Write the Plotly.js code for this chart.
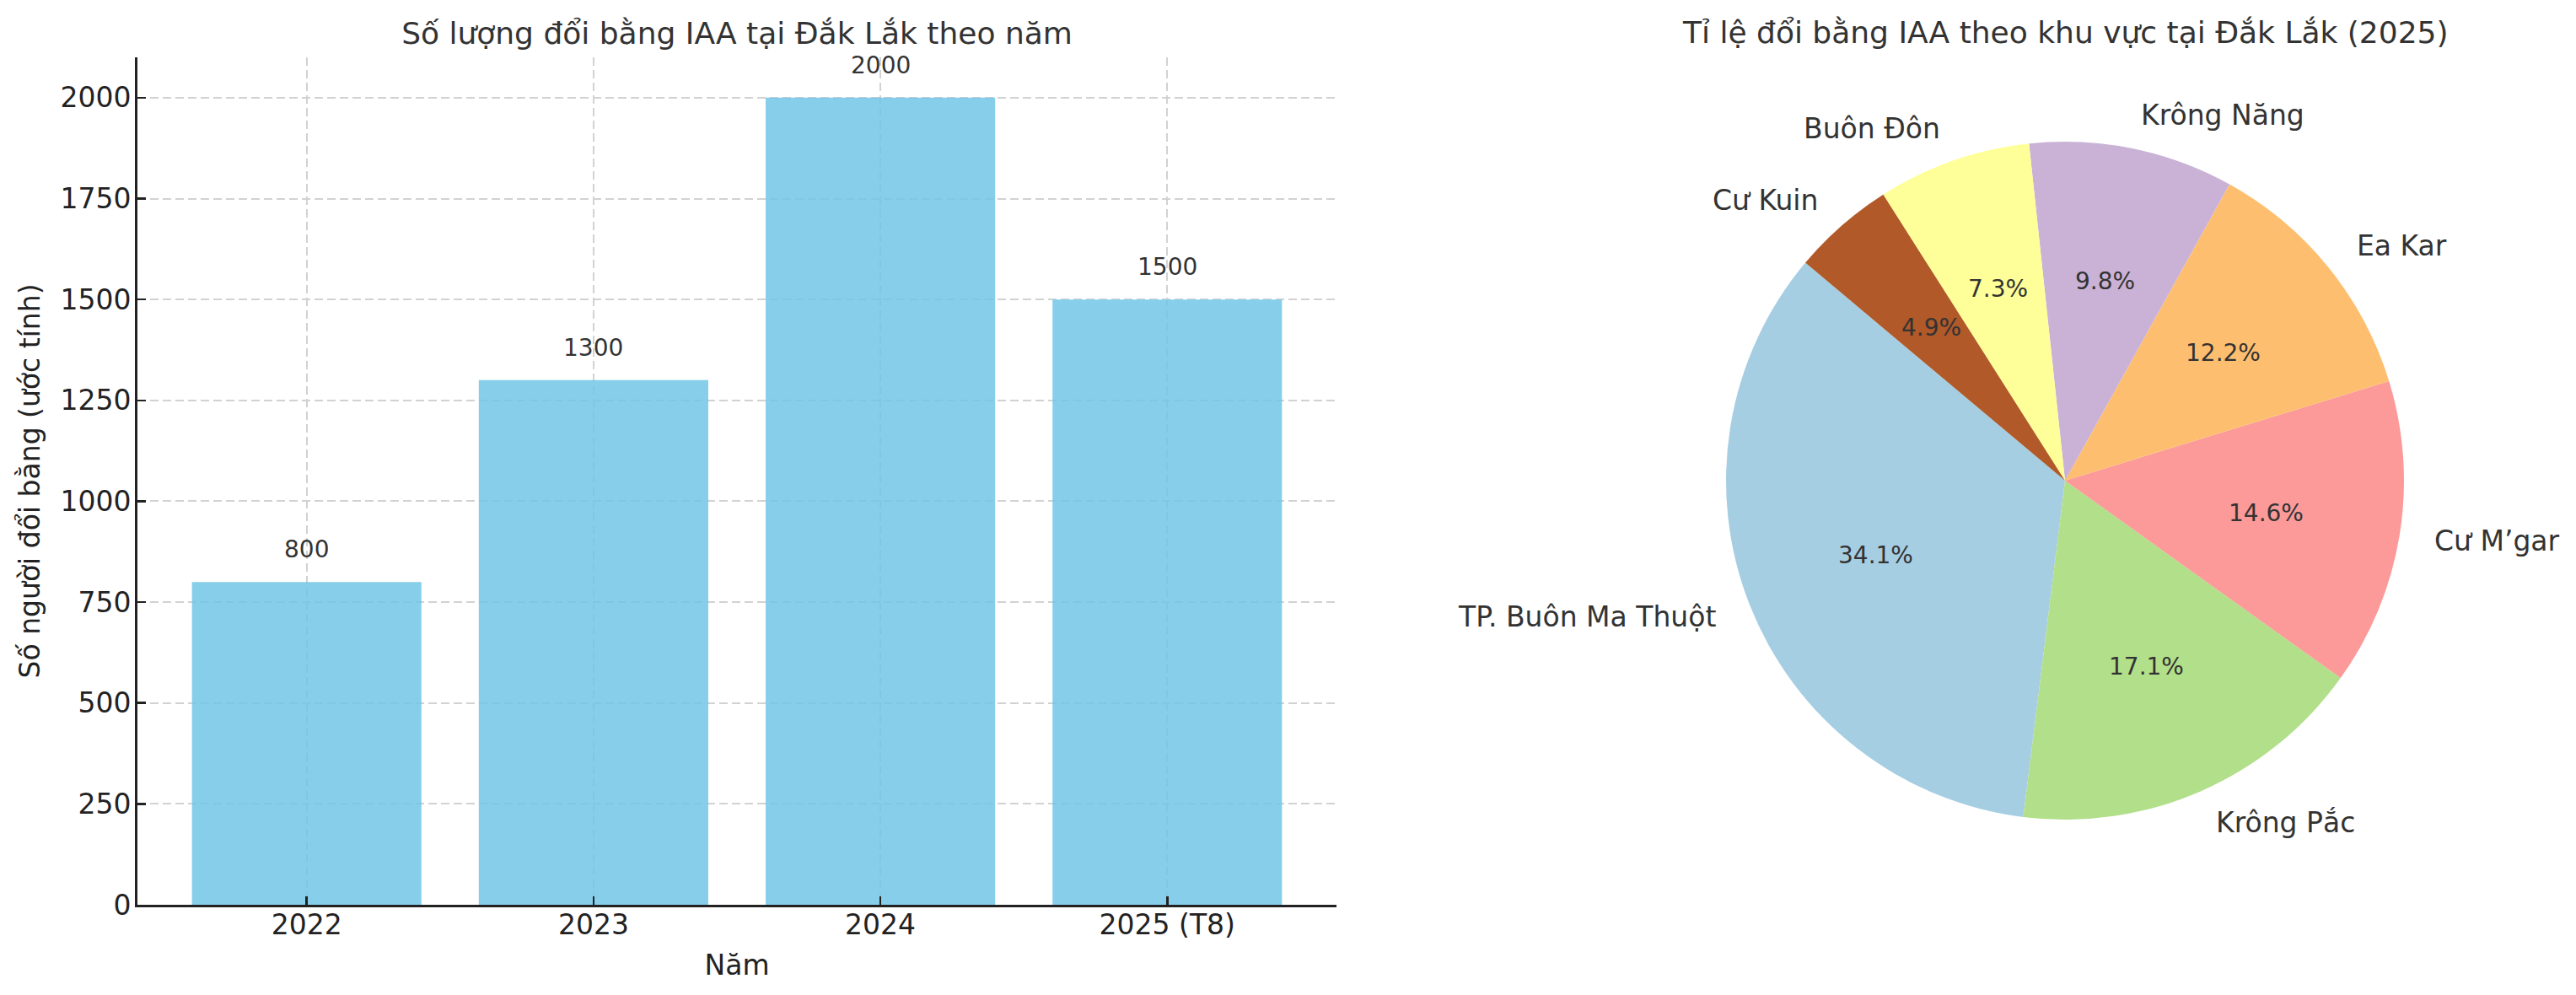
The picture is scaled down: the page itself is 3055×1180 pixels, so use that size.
<!DOCTYPE html>
<html>
<head>
<meta charset="utf-8">
<script src="https://cdn.plot.ly/plotly-3.0.1.min.js"></script>
<style>
  html, body { margin: 0; padding: 0; background: #fff; }
  #chart { width: 3055px; height: 1180px; }
</style>
</head>
<body>
<div id="chart"></div>
<script>
// bar chart data
const years = ['2022', '2023', '2024', '2025 (T8)'];
const counts = [800, 1300, 2000, 1500];
const yTicks = [0, 250, 500, 750, 1000, 1250, 1500, 1750, 2000];

// pie chart data
const regions = ['TP. Buôn Ma Thuột', 'Krông Pắc', 'Cư M’gar', 'Ea Kar', 'Krông Năng', 'Buôn Đôn', 'Cư Kuin'];
const regionCounts = [700, 350, 300, 250, 200, 150, 100];
const regionColors = ['#a6cee3', '#b2df8a', '#fb9a99', '#fdbf6f', '#cab2d6', '#ffff99', '#b15928'];

const W = 3055, H = 1180;
const FONT = 'DejaVu Sans';

// plot areas in pixels
const barBox = { left: 163, right: 1585, top: 68, bottom: 1073 };
const pie = { cx: 2449, cy: 570, r: 402, start: 140 };

const px = x => x / W;
const py = y => 1 - y / H;

const total = regionCounts.reduce((a, b) => a + b, 0);

const barTrace = {
  type: 'bar',
  x: years,
  y: counts,
  width: 0.8,
  marker: { color: 'rgba(114,197,231,0.85)', line: { width: 0 } },
  hoverinfo: 'x+y',
  xaxis: 'x', yaxis: 'y'
};

// plotly puts the first slice clockwise of the rotation line when going
// counterclockwise, so the line sits at the end of the first slice
const pieTrace = {
  type: 'pie',
  labels: regions,
  values: regionCounts,
  sort: false,
  direction: 'counterclockwise',
  rotation: 90 - (pie.start + regionCounts[0] / total * 360),
  marker: { colors: regionColors, line: { width: 0 } },
  textinfo: 'none',
  showlegend: false,
  domain: {
    x: [px(pie.cx - pie.r), px(pie.cx + pie.r)],
    y: [py(pie.cy + pie.r), py(pie.cy - pie.r)]
  }
};

const annotations = [];

// value labels above bars (index as x so "2022" isn't read as a number)
years.forEach((yr, i) => {
  annotations.push({
    xref: 'x', yref: 'y', x: i, y: counts[i],
    text: String(counts[i]), showarrow: false,
    xanchor: 'center', yanchor: 'bottom', yshift: 20,
    font: { family: FONT, size: 28, color: '#333333' }
  });
});

// pie labels and percentages
let cum = 0;
regionCounts.forEach((v, i) => {
  const mid = (pie.start + (cum + v / 2) / total * 360) * Math.PI / 180;
  cum += v;
  const c = Math.cos(mid), s = Math.sin(mid);
  annotations.push({
    xref: 'paper', yref: 'paper',
    x: px(pie.cx + 1.1 * pie.r * c), y: py(pie.cy - 1.1 * pie.r * s),
    text: regions[i], showarrow: false,
    xanchor: c > 0 ? 'left' : 'right', yanchor: 'middle',
    font: { family: FONT, size: 33, color: '#333333' }
  });
  annotations.push({
    xref: 'paper', yref: 'paper',
    x: px(pie.cx + 0.6 * pie.r * c), y: py(pie.cy - 0.6 * pie.r * s),
    text: (v / total * 100).toFixed(1) + '%', showarrow: false,
    xanchor: 'center', yanchor: 'middle',
    font: { family: FONT, size: 28, color: '#333333' }
  });
});

// pie title
annotations.push({
  xref: 'paper', yref: 'paper', x: px(pie.cx), y: py(39),
  text: 'Tỉ lệ đổi bằng IAA theo khu vực tại Đắk Lắk (2025)', showarrow: false,
  xanchor: 'center', yanchor: 'middle',
  font: { family: FONT, size: 36, color: '#333333' }
});

const gridStyle = { showgrid: true, gridcolor: '#d2d2d2', gridwidth: 2, griddash: '10px,5px' };

const layout = {
  width: W, height: H,
  margin: { l: 0, r: 0, t: 0, b: 0 },
  paper_bgcolor: '#ffffff', plot_bgcolor: '#ffffff',
  font: { family: FONT, color: '#222222' },
  showlegend: false,
  title: {
    text: 'Số lượng đổi bằng IAA tại Đắk Lắk theo năm',
    x: px((barBox.left + barBox.right) / 2), xanchor: 'center',
    y: py(39), yanchor: 'middle',
    font: { family: FONT, size: 36, color: '#333333' }
  },
  xaxis: Object.assign({
    domain: [px(barBox.left), px(barBox.right)],
    type: 'category',
    range: [-0.59, 3.59],
    showline: true, linecolor: '#222222', linewidth: 3,
    ticks: 'inside', ticklen: 10, tickwidth: 2.5, tickcolor: '#222222',
    ticklabelstandoff: -8,
    tickfont: { family: FONT, size: 33, color: '#222222' },
    title: { text: 'Năm', standoff: 19, font: { family: FONT, size: 33, color: '#222222' } },
    zeroline: false, automargin: false, fixedrange: true
  }, gridStyle),
  yaxis: Object.assign({
    domain: [py(barBox.bottom), py(barBox.top)],
    range: [0, 2100],
    tickvals: yTicks,
    ticktext: yTicks.map(String),
    showline: true, linecolor: '#222222', linewidth: 3,
    ticks: 'inside', ticklen: 10, tickwidth: 2.5, tickcolor: '#222222',
    ticklabelstandoff: -2,
    tickfont: { family: FONT, size: 33, color: '#222222' },
    title: { text: 'Số người đổi bằng (ước tính)', standoff: 14, font: { family: FONT, size: 33, color: '#222222' } },
    zeroline: false, automargin: false, fixedrange: true
  }, gridStyle),
  annotations: annotations
};

Plotly.newPlot('chart', [barTrace, pieTrace], layout, { displayModeBar: false, staticPlot: true });
</script>
</body>
</html>
